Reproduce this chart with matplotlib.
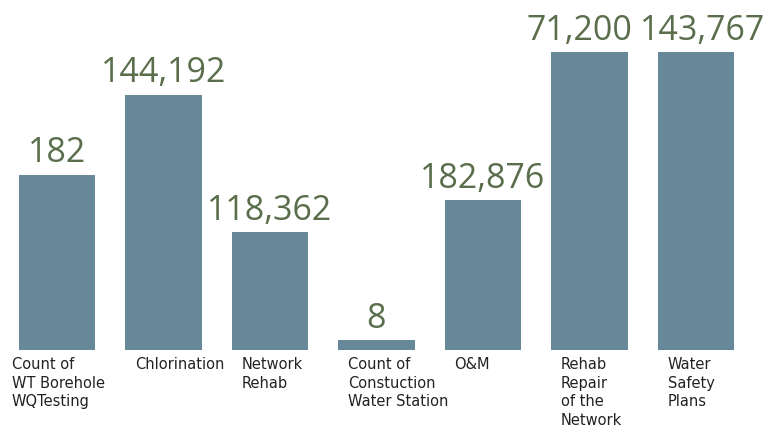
import matplotlib.pyplot as plt

# categories shown under each bar
categories = [
    "Count of\nWT Borehole\nWQTesting",
    "Chlorination",
    "Network\nRehab",
    "Count of\nConstuction\nWater Station",
    "O&M",
    "Rehab\nRepair\nof the\nNetwork",
    "Water\nSafety\nPlans",
]

# numbers printed above the bars
value_labels = ["182", "144,192", "118,362", "8", "182,876", "71,200", "143,767"]

# bar heights as drawn in the original (not proportional to the printed numbers)
bar_heights = [175, 255, 118, 10, 150, 298, 298]

BAR_COLOR = "#668899"
VALUE_COLOR = "#5a6e4c"
LABEL_COLOR = "#222222"


def main():
    fig = plt.figure(figsize=(7.72, 4.32), dpi=100)
    ax = fig.add_axes([0, 0, 1, 1])

    # one unit on x is the spacing between bars
    step = 106.5
    ax.set_xlim(-57 / step, (772 - 57) / step)
    ax.set_ylim(-82, 350)

    width = 0.714
    xs = list(range(len(categories)))
    ax.bar(xs, bar_heights, width=width, color=BAR_COLOR)

    n = len(xs)
    for i, (x, h, txt) in enumerate(zip(xs, bar_heights, value_labels)):
        # the last two numbers are pushed apart so they don't collide
        nudge = 0.0
        if i == n - 2:
            nudge = -0.09
        elif i == n - 1:
            nudge = 0.06
        ax.text(x + nudge, h + 12.5, txt, ha="center", va="baseline",
                fontsize=24.5, color=VALUE_COLOR, family="Open Sans")

    for i, (x, cat) in enumerate(zip(xs, categories)):
        # the first label sits a little left of its bar in the original
        shift = -0.07 if i == 0 else 0.09
        ax.text(x - width / 2 + shift, -7, cat, ha="left", va="top",
                fontsize=10.5, color=LABEL_COLOR, linespacing=1.3,
                family="DejaVu Sans")

    ax.axis("off")
    fig.savefig("out.png", dpi=100)
    plt.close(fig)


if __name__ == "__main__":
    main()
